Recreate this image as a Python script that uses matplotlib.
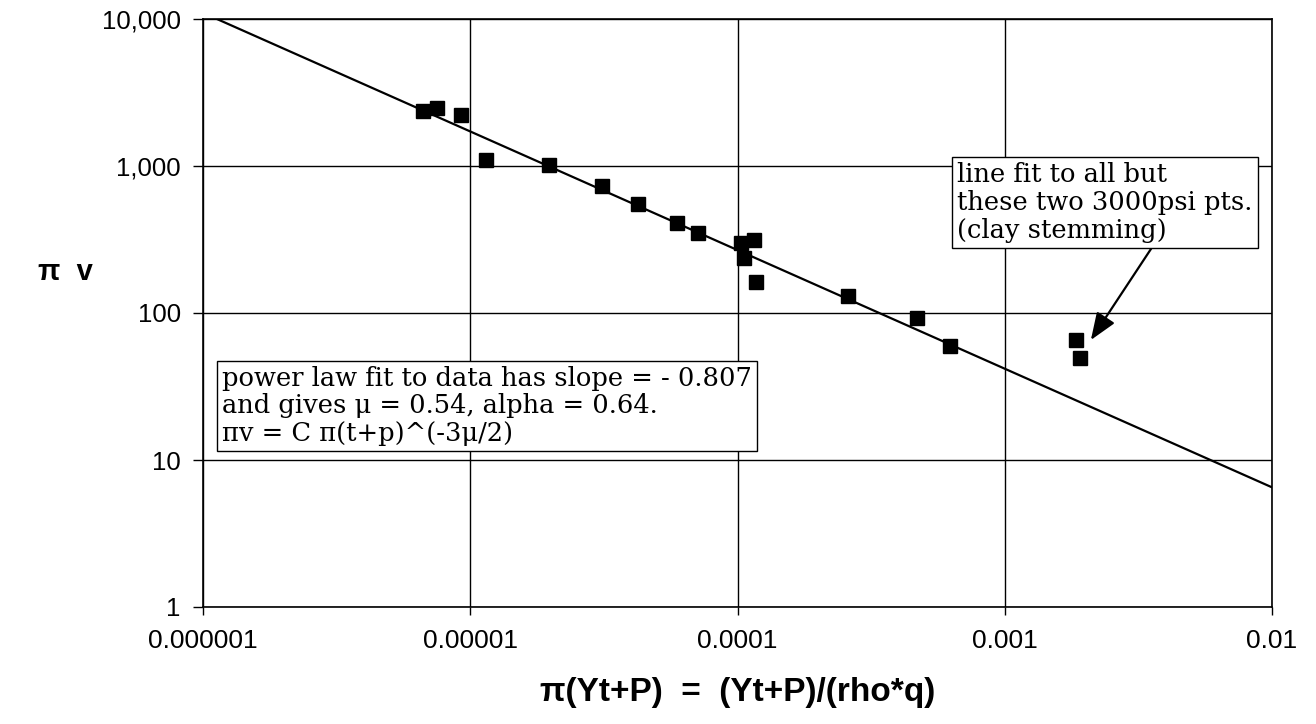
import numpy as np
import matplotlib
matplotlib.use("Agg")
import matplotlib.pyplot as plt
from matplotlib.ticker import FixedLocator, FixedFormatter, NullLocator

# ---- data ----
pi_ytp = [6.68e-6, 7.48e-6, 9.27e-6, 1.146e-5, 1.97e-5, 3.10e-5, 4.25e-5, 5.93e-5,
          7.10e-5, 1.035e-4, 1.06e-4, 1.156e-4, 1.17e-4, 2.60e-4, 4.71e-4, 6.25e-4,
          1.84e-3, 1.92e-3]
pi_v = [2366, 2483, 2224, 1099, 1016, 731, 551, 409,
        350, 299, 237, 314, 163, 131, 92.5, 59.7,
        65.4, 49.4]

fit_coef = 0.1585      # C
fit_slope = -0.807     # power law exponent

x_ticks = [1e-6, 1e-5, 1e-4, 1e-3, 1e-2]
x_ticklabels = ["0.000001", "0.00001", "0.0001", "0.001", "0.01"]
y_ticks = [1, 10, 100, 1000, 10000]
y_ticklabels = ["1", "10", "100", "1,000", "10,000"]

note_fit = ("power law fit to data has slope = - 0.807\n"
            "and gives \u03bc = 0.54, alpha = 0.64.\n"
            "\u03c0v = C \u03c0(t+p)^(-3\u03bc/2)")
note_out = "line fit to all but\nthese two 3000psi pts.\n(clay stemming)"
arrow_target = (2.1e-3, 65.5)

# ---- figure ----
W, H = 1316, 724
fig = plt.figure(figsize=(W / 100, H / 100), dpi=100)
L, R, T, B = 203, 1272, 19, 607
ax = fig.add_axes([L / W, 1 - B / H, (R - L) / W, (B - T) / H])
ax.set_xscale("log")
ax.set_yscale("log")
ax.set_xlim(1e-6, 1e-2)
ax.set_ylim(1, 10000)

ax.xaxis.set_major_locator(FixedLocator(x_ticks))
ax.xaxis.set_major_formatter(FixedFormatter(x_ticklabels))
ax.xaxis.set_minor_locator(NullLocator())
ax.yaxis.set_major_locator(FixedLocator(y_ticks))
ax.yaxis.set_major_formatter(FixedFormatter(y_ticklabels))
ax.yaxis.set_minor_locator(NullLocator())

ax.grid(True, which="major", color="black", linewidth=1.0)
for s in ax.spines.values():
    s.set_linewidth(1.2)
ax.tick_params(axis="both", direction="out", width=1.0, color="black")
ax.tick_params(axis="x", length=6, labelsize=19, pad=10)
ax.tick_params(axis="y", length=7, labelsize=18.5, pad=9)
for lab in ax.get_xticklabels() + ax.get_yticklabels():
    lab.set_family("Liberation Sans")

# fit line
xl = np.logspace(-6, -2, 200)
ax.plot(xl, fit_coef * xl ** fit_slope, color="black", linewidth=1.6, zorder=3)

# data points
ax.plot(pi_ytp, pi_v, linestyle="none", marker="s", markersize=10.5,
        color="black", zorder=4)

# axis titles
fig.text(((L + R) / 2) / W, 1 - 693 / H, "\u03c0(Yt+P)  =  (Yt+P)/(rho*q)",
         fontsize=24, fontweight="bold", family="Liberation Sans",
         ha="center", va="center")
fig.text(65 / W, 1 - 272 / H, "\u03c0  v", fontsize=21, fontweight="bold",
         family="Liberation Sans", ha="center", va="center")

# text boxes
box = dict(boxstyle="square,pad=0.2", facecolor="white", edgecolor="black", linewidth=1.0)
ax.text((222 - L) / (R - L), (B - 366) / (B - T), note_fit, transform=ax.transAxes,
        fontsize=18.5, family="DejaVu Serif", va="top", ha="left", linespacing=1.12,
        bbox=box, zorder=5)
ax.annotate(note_out, xy=arrow_target,
            xytext=((957 - L) / (R - L), (B - 162) / (B - T)),
            textcoords="axes fraction", fontsize=18.5, family="DejaVu Serif",
            va="top", ha="left", linespacing=1.15, bbox=box,
            arrowprops=dict(arrowstyle="-|>,head_length=0.9,head_width=0.35", color="black",
                            linewidth=1.6, shrinkA=0, shrinkB=0, relpos=(0.67, 0.0)),
            zorder=5)

fig.savefig("out.png", dpi=100)
